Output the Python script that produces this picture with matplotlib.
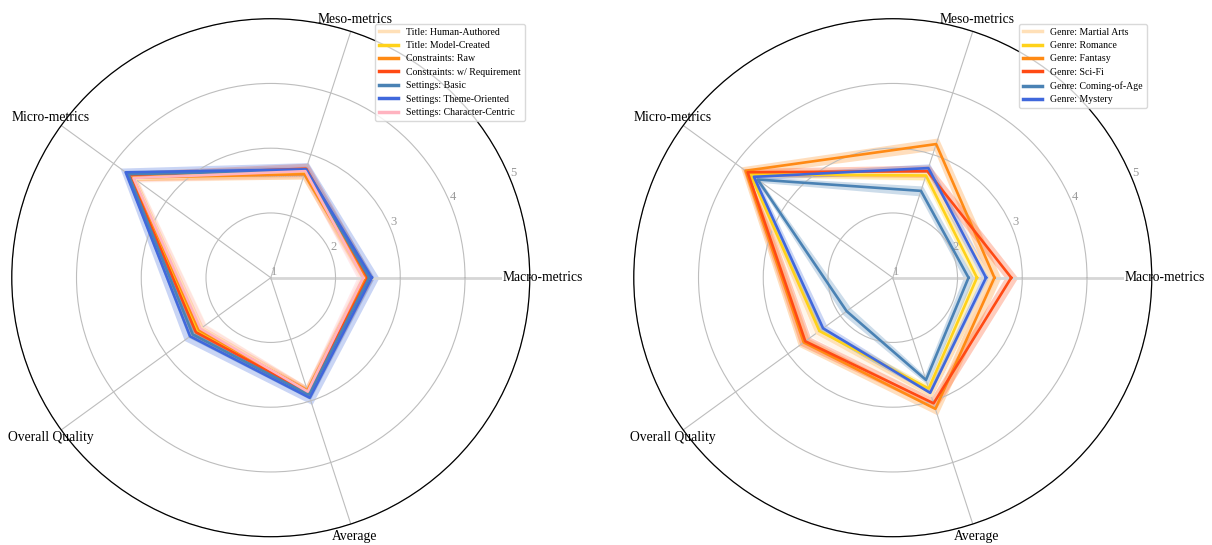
import numpy as np
import matplotlib
matplotlib.use("Agg")
import matplotlib.pyplot as plt

plt.rcParams['font.family'] = ['Liberation Serif', 'DejaVu Serif']

# ---- data -------------------------------------------------------------
metrics = ["Macro-metrics", "Meso-metrics", "Micro-metrics", "Overall Quality", "Average"]
radial_ticks = [1, 2, 3, 4, 5]

# Left panel: prompt variants
left_labels = ["Title: Human-Authored", "Title: Model-Created", "Constraints: Raw",
               "Constraints: w/ Requirement", "Settings: Basic",
               "Settings: Theme-Oriented", "Settings: Character-Centric"]
left_colors = ["#FFE0B8", "#FFD21A", "#FF8A14", "#FF4A14", "#4A82B4", "#4068DC", "#FFB3C0"]

title_human = [2.45, 2.70, 3.60, 2.32, 2.84]
title_model = [2.48, 2.72, 3.63, 2.40, 2.86]
constraints_raw = [2.47, 2.68, 3.63, 2.37, 2.83]
constraints_req = [2.50, 2.77, 3.70, 2.43, 2.87]
settings_basic = [2.52, 2.74, 3.72, 2.49, 2.90]
settings_theme = [2.56, 2.76, 3.77, 2.54, 2.95]
settings_char = [2.43, 2.73, 3.62, 2.34, 2.85]

title_human_sd = [0.09, 0.09, 0.09, 0.09, 0.09]
title_model_sd = [0.08, 0.08, 0.08, 0.08, 0.08]
constraints_raw_sd = [0.08, 0.08, 0.08, 0.08, 0.08]
constraints_req_sd = [0.09, 0.09, 0.09, 0.09, 0.09]
settings_basic_sd = [0.08, 0.08, 0.08, 0.08, 0.08]
settings_theme_sd = [0.11, 0.11, 0.11, 0.11, 0.11]
settings_char_sd = [0.10, 0.10, 0.10, 0.10, 0.10]

left_values = [title_human, title_model, constraints_raw, constraints_req,
               settings_basic, settings_theme, settings_char]
left_errors = [title_human_sd, title_model_sd, constraints_raw_sd, constraints_req_sd,
               settings_basic_sd, settings_theme_sd, settings_char_sd]

# Right panel: genres
right_labels = ["Genre: Martial Arts", "Genre: Romance", "Genre: Fantasy",
                "Genre: Sci-Fi", "Genre: Coming-of-Age", "Genre: Mystery"]
right_colors = ["#FFE0B8", "#FFD21A", "#FF8A14", "#FF4A14", "#4A82B4", "#4068DC"]

genre_martial = [2.51, 2.68, 3.74, 2.45, 2.92]
genre_romance = [2.30, 2.66, 3.72, 2.40, 2.80]
genre_fantasy = [2.57, 3.17, 3.81, 2.70, 3.13]
genre_scifi = [2.83, 2.73, 3.77, 2.67, 3.04]
genre_coming = [2.17, 2.41, 3.58, 1.88, 2.66]
genre_mystery = [2.44, 2.78, 3.65, 2.33, 2.87]

genre_martial_sd = [0.10, 0.10, 0.10, 0.10, 0.10]
genre_romance_sd = [0.07, 0.07, 0.07, 0.07, 0.07]
genre_fantasy_sd = [0.10, 0.10, 0.10, 0.10, 0.10]
genre_scifi_sd = [0.10, 0.10, 0.10, 0.10, 0.10]
genre_coming_sd = [0.08, 0.08, 0.08, 0.08, 0.08]
genre_mystery_sd = [0.07, 0.07, 0.07, 0.07, 0.07]

right_values = [genre_martial, genre_romance, genre_fantasy, genre_scifi,
                genre_coming, genre_mystery]
right_errors = [genre_martial_sd, genre_romance_sd, genre_fantasy_sd, genre_scifi_sd,
                genre_coming_sd, genre_mystery_sd]


# ---- drawing ----------------------------------------------------------
def radar(ax, values, errors, labels, colors):
    n = len(metrics)
    angles = np.linspace(0, 2 * np.pi, n, endpoint=False)
    closed = np.concatenate([angles, angles[:1]])

    for vals, errs, lab, col in zip(values, errors, labels, colors):
        v = np.asarray(vals, dtype=float)
        e = np.asarray(errs, dtype=float)
        v_c = np.concatenate([v, v[:1]])
        e_c = np.concatenate([e, e[:1]])
        ax.fill_between(closed, v_c - e_c, v_c + e_c, color=col, alpha=0.28, lw=0)
        ax.plot(closed, v_c, color=col, lw=1.9, label=lab)

    rmin, rmax = radial_ticks[0], radial_ticks[-1]
    ax.set_ylim(rmin, rmax)
    ax.set_yticks(radial_ticks)
    ax.set_yticklabels([str(t) for t in radial_ticks], color="#9a9a9a", fontsize=9)
    ax.set_rlabel_position(22.5)

    ax.set_xticks(angles)
    ax.set_xticklabels([])
    # axis names centred just outside the outer ring
    for ang, name in zip(angles, metrics):
        ax.text(ang, rmax + 0.2, name, fontsize=9.8, ha="center", va="center",
                clip_on=False, zorder=2.2,
                bbox=dict(facecolor="white", edgecolor="none", pad=0.3))

    ax.grid(True, color="#bdbdbd", lw=0.8)
    ax.xaxis.get_gridlines()[0].set_linewidth(2.0)
    ax.xaxis.get_gridlines()[0].set_color("#d6d6d6")

    ax.spines["polar"].set_color("black")
    ax.spines["polar"].set_linewidth(0.9)
    ax.spines["polar"].set_zorder(2.5)
    ax.set_facecolor("white")

    leg = ax.legend(loc="upper right", fontsize=7.1, handlelength=2.0,
                    frameon=True, fancybox=True, framealpha=0.8,
                    edgecolor="#d0d0d0", labelspacing=0.45)
    leg.set_zorder(5)
    for line in leg.get_lines():
        line.set_linewidth(2.5)


fig = plt.figure(figsize=(12.12, 5.45), dpi=100)
fig.patch.set_facecolor("white")

ax1 = fig.add_axes([0.0097, 0.0152, 0.4274, 0.9505], projection="polar")
ax2 = fig.add_axes([0.5229, 0.0152, 0.4274, 0.9505], projection="polar")

radar(ax1, left_values, left_errors, left_labels, left_colors)
radar(ax2, right_values, right_errors, right_labels, right_colors)

fig.savefig("out.png", dpi=100, facecolor="white")
